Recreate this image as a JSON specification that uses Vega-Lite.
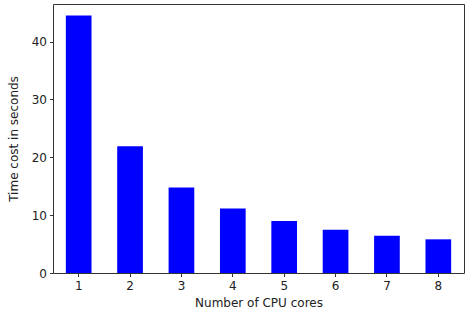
{
  "$schema": "https://vega.github.io/schema/vega-lite/v6.json",
  "width": 411,
  "height": 269,
  "autosize": {"type": "none"},
  "padding": {"left": 53, "top": 4, "right": 1, "bottom": 43},
  "background": "white",
  "config": {
    "view": {"stroke": "#333333", "strokeWidth": 1},
    "axis": {
      "labelFont": "DejaVu Sans",
      "titleFont": "DejaVu Sans",
      "labelFontSize": 12,
      "titleFontSize": 12,
      "labelColor": "#222222",
      "titleColor": "#222222",
      "titleFontWeight": "normal",
      "tickColor": "#333333",
      "domainColor": "#333333",
      "tickSize": 3.5,
      "grid": false
    }
  },
  "data": {
    "values": [
      {"cores": "1", "time": 44.5},
      {"cores": "2", "time": 21.9},
      {"cores": "3", "time": 14.8},
      {"cores": "4", "time": 11.15},
      {"cores": "5", "time": 8.98},
      {"cores": "6", "time": 7.48},
      {"cores": "7", "time": 6.44},
      {"cores": "8", "time": 5.82}
    ]
  },
  "mark": {"type": "bar", "color": "#0000ff"},
  "encoding": {
    "x": {
      "field": "cores",
      "type": "ordinal",
      "sort": null,
      "scale": {"paddingInner": 0.5, "paddingOuter": 0.25},
      "axis": {"title": "Number of CPU cores", "labelAngle": 0, "labelPadding": 4, "titlePadding": 6, "domain": false}
    },
    "y": {
      "field": "time",
      "type": "quantitative",
      "scale": {"domain": [0, 46.5], "nice": false},
      "axis": {"title": "Time cost in seconds", "values": [0, 10, 20, 30, 40], "labelPadding": 3, "titlePadding": 11, "domain": false}
    }
  }
}
